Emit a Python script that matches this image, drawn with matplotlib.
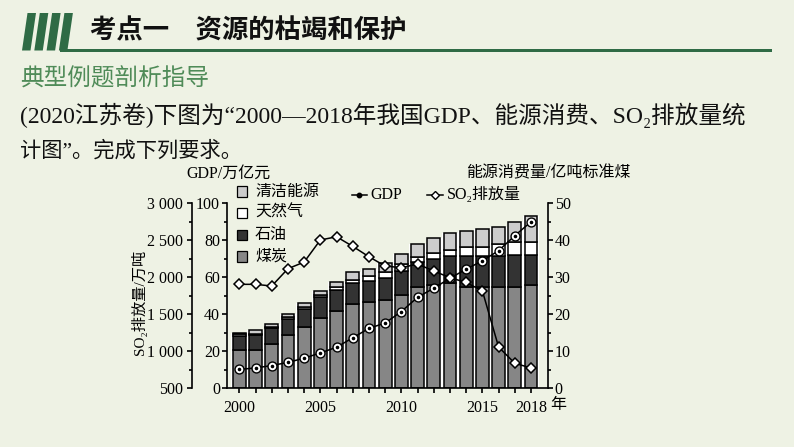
import matplotlib
matplotlib.use("Agg")
import matplotlib.pyplot as plt
from matplotlib.patches import Polygon, Rectangle
from matplotlib.lines import Line2D
from matplotlib.ticker import MultipleLocator, FixedLocator, FuncFormatter

# ---------------- data ----------------
years = list(range(2000, 2019))
# energy consumption (亿吨标准煤), stacked
coal = [10.4, 10.4, 12.0, 14.4, 16.5, 19.1, 21.0, 22.7, 23.2, 24.0, 25.2, 27.5, 27.9, 28.4, 27.5, 27.5, 27.5, 27.5, 27.8]
oil = [3.8, 3.9, 4.2, 4.4, 4.9, 5.5, 5.6, 5.7, 5.8, 5.9, 6.5, 6.7, 7.0, 7.4, 8.3, 8.3, 8.3, 8.4, 8.1]
gas = [0.4, 0.5, 0.5, 0.6, 0.7, 0.6, 0.7, 0.9, 1.4, 1.5, 1.8, 1.4, 1.6, 1.6, 2.5, 2.5, 3.1, 3.7, 3.7]
clean = [0.4, 0.9, 0.7, 0.8, 1.0, 1.2, 1.5, 2.0, 1.8, 2.5, 2.8, 3.4, 4.0, 4.6, 4.3, 4.7, 4.8, 5.4, 7.1]
# GDP (万亿元)
gdp = [10.2, 11.0, 12.3, 14.0, 16.3, 19.1, 22.2, 27.3, 32.4, 35.3, 41.5, 49.2, 54.1, 59.5, 64.4, 68.9, 74.4, 82.5, 90.0]
# SO2 emission (万吨)
so2 = [1905, 1905, 1882, 2116, 2206, 2504, 2548, 2418, 2278, 2152, 2130, 2179, 2085, 1995, 1930, 1816, 1058, 838, 775]
year_labels = {2000: "2000", 2005: "2005", 2010: "2010", 2015: "2015", 2018: "2018"}
energy_names = ["清洁能源", "天然气", "石油", "煤炭"]

# ---------------- style ----------------
BG = "#EEF2E4"
GREEN_DARK = "#2F6B45"
GREEN_MID = "#4F8B58"
C_COAL, C_OIL, C_GAS, C_CLEAN = "#868686", "#333333", "#FFFFFF", "#CCCCCC"
FAM = ["Liberation Serif", "Noto Sans CJK SC", "DejaVu Sans"]
plt.rcParams["font.family"] = FAM

W, H = 794, 447
fig = plt.figure(figsize=(W / 100, H / 100), dpi=100, facecolor=BG)


def fx(x):
    return x / W


def fy(y):
    return 1 - y / H


# ---------------- header ----------------
for i in range(4):
    xb = 22 + 12.3 * i
    verts = [(fx(xb), fy(50.5)), (fx(xb + 8.5), fy(50.5)),
             (fx(xb + 14), fy(13)), (fx(xb + 5.5), fy(13))]
    fig.add_artist(Polygon(verts, closed=True, transform=fig.transFigure,
                           facecolor=GREEN_DARK, edgecolor="none"))
fig.add_artist(Rectangle((fx(60), fy(51.5)), fx(772) - fx(60), 3 / H,
                         transform=fig.transFigure, facecolor=GREEN_DARK,
                         edgecolor="none"))
fig.text(fx(90), fy(31), "考点一　资源的枯竭和保护", fontsize=19,
         fontweight="bold", family=["Noto Sans CJK SC", "DejaVu Sans"],
         va="center", ha="left", color="#111111")
fig.text(fx(20), fy(79), "典型例题剖析指导", fontsize=17,
         family=["Noto Sans CJK SC", "DejaVu Sans"], va="center", ha="left",
         color=GREEN_MID)
fig.text(fx(20), fy(115), "(2020江苏卷)下图为“2000—2018年我国GDP、能源消费、SO₂排放量统",
         fontsize=17.0, family=FAM, va="center", ha="left", color="#111111")
fig.text(fx(20), fy(151), "计图”。完成下列要求。",
         fontsize=15.3, family=FAM, va="center", ha="left", color="#111111")

# ---------------- axes ----------------
rect = [fx(227), fy(388.3), (547.7 - 227) / W, 185 / H]
XL = (1999.24, 2019.03)
TICK_FS = 11.5
LW = 1.2

# energy bars (right axis)
ax_e = fig.add_axes(rect)
ax_e.set_facecolor("none")
ax_e.set_xlim(*XL)
ax_e.set_ylim(0, 50)
totals = [a + b + c + d for a, b, c, d in zip(coal, oil, gas, clean)]
ax_e.bar(years, totals, width=1.0, color="white", linewidth=0, zorder=1)
bottom = [0] * len(years)
for seg, col in [(coal, C_COAL), (oil, C_OIL), (gas, C_GAS), (clean, C_CLEAN)]:
    ax_e.bar(years, seg, bottom=bottom, width=0.79, color=col,
             edgecolor="black", linewidth=1.1, zorder=2)
    bottom = [b + s for b, s in zip(bottom, seg)]
for s in ["left", "top", "bottom"]:
    ax_e.spines[s].set_visible(False)
ax_e.spines["right"].set_linewidth(LW)
ax_e.yaxis.tick_right()
ax_e.set_xticks([])
ax_e.yaxis.set_major_locator(MultipleLocator(10))
ax_e.yaxis.set_minor_locator(MultipleLocator(5))
ax_e.tick_params(axis="y", which="major", direction="out", length=3.5,
                 width=LW, labelsize=TICK_FS, pad=1.5)
ax_e.tick_params(axis="y", which="minor", direction="out", length=2.5, width=LW)

# GDP axis (left inner)
ax_g = fig.add_axes(rect)
ax_g.set_facecolor("none")
ax_g.set_xlim(*XL)
ax_g.set_ylim(0, 100)
for s in ["right", "top"]:
    ax_g.spines[s].set_visible(False)
ax_g.spines["left"].set_linewidth(LW)
ax_g.spines["bottom"].set_linewidth(LW)
ax_g.yaxis.set_major_locator(MultipleLocator(20))
ax_g.yaxis.set_minor_locator(MultipleLocator(10))
ax_g.tick_params(axis="y", which="major", direction="out", length=3.5,
                 width=LW, labelsize=TICK_FS, pad=1.5)
ax_g.tick_params(axis="y", which="minor", direction="out", length=2.5, width=LW)
ax_g.xaxis.set_major_locator(FixedLocator(years))
ax_g.xaxis.set_major_formatter(FuncFormatter(lambda v, p: year_labels.get(int(round(v)), "")))
ax_g.tick_params(axis="x", which="major", direction="out", length=3.5,
                 width=LW, labelsize=TICK_FS, pad=5)
ax_g.plot(years, gdp, color="black", lw=1.1, zorder=3)
ax_g.plot(years, gdp, "o", ms=6.4, mfc="black", mec="black", zorder=4)
ax_g.plot(years, gdp, "o", ms=4.0, mfc="black", mec="white", mew=1.4, zorder=5)

# SO2 axis (left outer)
ax_s = fig.add_axes(rect)
ax_s.set_facecolor("none")
ax_s.set_xlim(*XL)
ax_s.set_ylim(500, 3000)
for s in ["right", "top", "bottom"]:
    ax_s.spines[s].set_visible(False)
ax_s.spines["left"].set_position(("outward", 25.2))
ax_s.spines["left"].set_linewidth(LW)
ax_s.set_xticks([])
ax_s.yaxis.set_major_locator(MultipleLocator(500))
ax_s.yaxis.set_minor_locator(MultipleLocator(250))
ax_s.yaxis.set_major_formatter(FuncFormatter(lambda v, p: f"{int(v):,}".replace(",", " ")))
ax_s.tick_params(axis="y", which="major", direction="out", length=3.5,
                 width=LW, labelsize=TICK_FS, pad=3)
ax_s.tick_params(axis="y", which="minor", direction="out", length=2.5, width=LW)
ax_s.plot(years, so2, color="black", lw=1.1, zorder=3)
ax_s.plot(years, so2, "D", ms=5, mfc="white", mec="black", mew=1.1, zorder=4)

# ---------------- chart texts & legend ----------------
fig.text(fx(186), fy(174), "GDP/万亿元", fontsize=11.5, va="center", ha="left")
fig.text(fx(466), fy(173), "能源消费量/亿吨标准煤", fontsize=11.5, va="center", ha="left")
fig.text(fx(139), fy(302), "SO₂排放量/万吨", fontsize=11, va="center",
         ha="center", rotation=90)
fig.text(fx(550), fy(405), "年", fontsize=11.5, va="center", ha="left")

leg_y = [191.7, 213, 235, 256.7]
for name, col, yy in zip(energy_names, [C_CLEAN, C_GAS, C_OIL, C_COAL], leg_y):
    fig.add_artist(Rectangle((fx(236.5), fy(yy + 5.2)), 10.5 / W, 10.5 / H,
                             transform=fig.transFigure, facecolor=col,
                             edgecolor="black", linewidth=0.9))
    fig.text(fx(255), fy(yy), name, fontsize=11.5, va="center", ha="left")

fig.add_artist(Line2D([fx(351.7), fx(366.7)], [fy(195), fy(195)],
                      transform=fig.transFigure, color="black", lw=1.1))
fig.add_artist(Line2D([fx(358.5)], [fy(195)], transform=fig.transFigure,
                      marker="o", ms=3.2, color="black", lw=0))
fig.text(fx(370), fy(195), "GDP", fontsize=11.5, va="center", ha="left")

fig.add_artist(Line2D([fx(426.7), fx(443.3)], [fy(195), fy(195)],
                      transform=fig.transFigure, color="black", lw=1.1))
fig.add_artist(Line2D([fx(435)], [fy(195)], transform=fig.transFigure,
                      marker="D", ms=4.5, mfc="white", mec="black", mew=1.0, lw=0))
fig.text(fx(446.7), fy(195), "SO₂排放量", fontsize=11.5, va="center", ha="left")

fig.savefig("out.png", dpi=100, facecolor=BG)
